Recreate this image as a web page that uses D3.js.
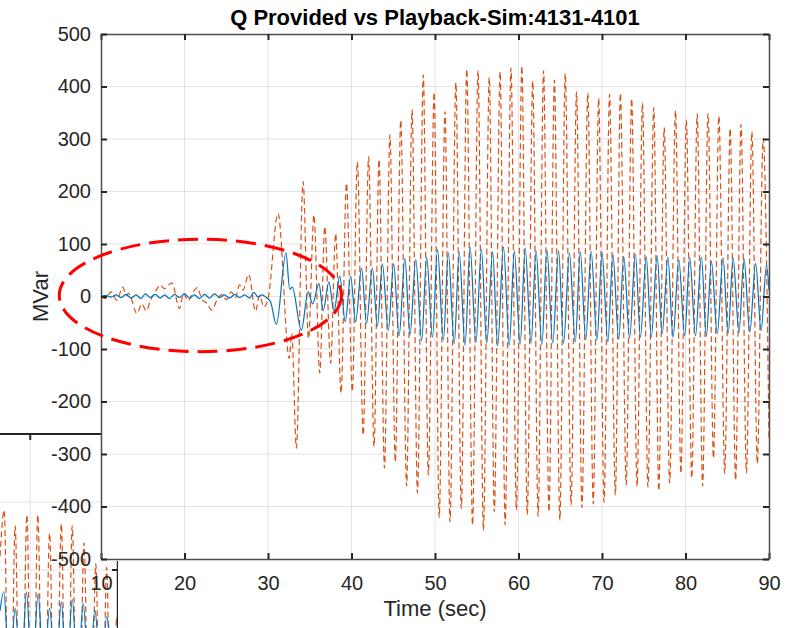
<!DOCTYPE html>
<html lang="en">
<head>
<meta charset="UTF-8">
<title>Q Provided vs Playback-Sim:4131-4101</title>
<script src="https://cdn.jsdelivr.net/npm/d3@7"></script>
<style>
  body { margin: 0; background: #fff; }
  svg { display: block; font-family: "Liberation Sans", Arial, sans-serif; }
</style>
</head>
<body>
<svg id="svg"></svg>
<script>
var WIDTH = 794;
var HEIGHT = 628;
var LEFT = 101, RIGHT = 769, TOP = 34, BOTTOM = 559;

// tick values
var xTicks = [10, 20, 30, 40, 50, 60, 70, 80, 90];
var yTicks = [-500, -400, -300, -200, -100, 0, 100, 200, 300, 400, 500];

// Q Provided (blue, solid) - [time sec, MVar] read at the turning points
var provided = [
  [10,0],[10.6,2],[11.2,-1],[11.8,3],[12.4,-2],[13.0,4],[13.6,-3],[14.2,3],[14.8,-4],[15.3,5],
  [15.9,-2],[16.5,4],[17.1,-3],[17.6,3],[18.2,-4],[18.8,4],[19.4,-2],[20.0,5],[20.6,-3],[21.2,3],
  [21.8,-4],[22.4,4],[23.0,-3],[23.6,5],[24.2,-2],[24.8,3],[25.4,-3],[26.0,4],[26.6,-2],[27.2,3],
  [27.8,-3],[28.3,8],[28.8,-1],[29.3,3],[29.8,-2],[30.3,-10],[31.0,-53],[32.15,83],[32.6,14],[32.9,18],
  [34.0,-64],[34.8,9],[35.35,-14],[36.1,25],[36.6,-27],[37.3,28],[37.9,-29],[38.6,39],[39.25,-48],[39.9,38],
  [40.5,-48],[41.2,54],[41.8,-51],[42.5,54],[43.1,-57],[43.7,62],[44.4,-65],[45.05,62],[45.7,-75],[46.4,72],
  [47.0,-74],[47.7,71],[48.4,-84],[49.0,75],[49.7,-78],[50.3,90],[51.0,-83],[51.6,83],[52.3,-90],[52.9,84],
  [53.6,-93],[54.2,94],[54.9,-88],[55.55,90],[56.2,-89],[56.9,85],[57.5,-94],[58.2,94],[58.9,-93],[59.5,87],
  [60.2,-91],[60.8,92],[61.5,-89],[62.1,87],[62.8,-92],[63.4,89],[64.1,-89],[64.8,87],[65.4,-89],[66.1,83],
  [66.8,-87],[67.4,85],[68.05,-83],[68.7,86],[69.4,-83],[70.0,84],[70.7,-87],[71.3,80],[72.0,-82],[72.6,76],
  [73.3,-79],[74.0,81],[74.6,-78],[75.3,76],[75.9,-78],[76.6,78],[77.2,-71],[77.9,75],[78.5,-78],[79.2,70],
  [79.9,-75],[80.5,74],[81.2,-75],[81.9,75],[82.5,-76],[83.1,67],[83.8,-71],[84.5,74],[85.1,-71],[85.7,73],
  [86.4,-69],[87.0,72],[87.7,-68],[88.4,63],[89.05,-65],[89.7,60],[90.0,12]
];

// Playback-Sim (orange, dashed)
var playback = [
  [10,0],[10.5,-4],[11.2,9],[11.9,-7],[12.6,18],[13.0,2],[13.3,6],[14.3,-32],[14.9,-14],[15.4,-27],
  [16.0,-5],[16.7,14],[17.1,22],[17.6,15],[18.1,22],[18.5,26],[19.4,-23],[19.9,6],[20.4,-8],[21.1,10],
  [21.5,17],[22.1,-6],[22.6,-12],[23.3,-26],[23.9,-6],[24.5,4],[25.0,-6],[25.6,9],[26.1,-2],[26.6,22],
  [27.0,12],[27.7,42],[28.5,-28],[29.0,2],[29.5,-20],[30.0,-5],[31.2,158],[32.55,-118],[32.85,-70],[33.4,-289],
  [34.2,219],[34.85,-80],[35.5,155],[36.2,-146],[36.8,133],[37.5,-127],[38.1,120],[38.75,-184],[39.4,216],[40.1,-181],
  [40.7,257],[41.4,-264],[42.05,266],[42.7,-286],[43.3,261],[43.95,-327],[44.6,308],[45.25,-315],[45.9,336],[46.6,-361],
  [47.25,356],[47.9,-374],[48.6,422],[49.2,-340],[49.9,389],[50.5,-421],[51.2,352],[51.8,-429],[52.5,407],[53.15,-404],
  [53.8,433],[54.5,-435],[55.15,431],[55.8,-445],[56.5,417],[57.1,-410],[57.8,428],[58.4,-435],[59.1,435],[59.75,-407],
  [60.4,439],[61.05,-416],[61.7,410],[62.35,-419],[63.0,430],[63.65,-410],[64.3,412],[64.95,-426],[65.6,425],[66.3,-397],
  [66.95,390],[67.6,-402],[68.3,388],[68.95,-395],[69.6,377],[70.25,-392],[70.9,385],[71.6,-378],[72.2,387],[72.9,-359],
  [73.55,377],[74.2,-362],[74.85,369],[75.5,-363],[76.2,360],[76.8,-370],[77.45,322],[78.1,-355],[78.8,354],[79.45,-337],
  [80.1,336],[80.75,-346],[81.4,348],[82.05,-361],[82.7,349],[83.35,-308],[84.0,344],[84.7,-337],[85.35,320],[86.0,-350],
  [86.65,328],[87.3,-336],[87.95,314],[88.6,-318],[89.3,301],[90.0,-273]
];

// red dashed ring around the early part: centre [sec, MVar], radii [sec, MVar]
var ringCenter = [21.9, 2];
var ringRadius = [16.9, 107];

// piece of another figure window peeking in at bottom left
var ghostXTicks = [50];
var ghostYTicks = [100, 200];
var ghostPlayback = [
  [46.4,120],[46.9,188],[47.55,-300],[48.2,165],[48.9,-300],[49.6,181],[50.25,-300],[50.9,181],[51.6,-300],[52.3,154],
  [53.0,-300],[53.7,168],[54.35,-300],[55.0,165],[55.7,-300],[56.4,140],[57.1,-300],[57.8,109],[58.45,-300],[59.1,104],
  [59.7,-300],[60.3,31],[60.9,-300]
];
var ghostProvided = [
  [46.4,40],[46.85,68],[47.55,-60],[48.2,44],[48.9,-60],[49.55,68],[50.2,-60],[50.95,65],[51.6,-60],[52.3,44],
  [53.0,-60],[53.7,53],[54.35,-60],[55.0,57],[55.65,-60],[56.3,51],[57.0,-60],[57.7,41],[58.4,-60],[59.1,31],[59.8,-60]
];

var BLUE = "#0072BD";
var ORANGE = "#D95319";
var AXIS = "#262626";
var GRID = "#e3e3e3";

var svg = d3.select("#svg")
            .attr("width", WIDTH)
            .attr("height", HEIGHT);

svg.append("rect")
   .attr("width", WIDTH)
   .attr("height", HEIGHT)
   .attr("fill", "#fff");

// ---- ghost window (drawn first, underneath) ----
var gx = d3.scaleLinear().domain([46.4, 60.4]).range([0, 117.6]);
var gy = d3.scaleLinear().domain([0, 200]).range([638, 502]);

svg.append("clipPath")
   .attr("id", "ghostClip")
   .append("polygon")
   .attr("points", "0,433 101,433 101,561 118,561 118,628 0,628");

var ghost = svg.append("g").attr("clip-path", "url(#ghostClip)");

ghost.selectAll("line.gh")
     .data(ghostYTicks)
     .enter()
     .append("line")
     .attr("x1", 0)
     .attr("x2", 118)
     .attr("y1", function(d){ return gy(d); })
     .attr("y2", function(d){ return gy(d); })
     .attr("stroke", GRID)
     .attr("stroke-width", 1);

ghost.selectAll("line.gv")
     .data(ghostXTicks)
     .enter()
     .append("line")
     .attr("x1", function(d){ return gx(d); })
     .attr("x2", function(d){ return gx(d); })
     .attr("y1", 433)
     .attr("y2", HEIGHT)
     .attr("stroke", GRID)
     .attr("stroke-width", 1);

var ghostLine = d3.line()
                  .x(function(d){ return gx(d[0]); })
                  .y(function(d){ return gy(d[1]); })
                  .curve(d3.curveMonotoneX);

ghost.append("path")
     .attr("d", ghostLine(ghostPlayback))
     .attr("fill", "none")
     .attr("stroke", ORANGE)
     .attr("stroke-width", 1.2)
     .attr("stroke-dasharray", "6,3.5");

ghost.append("path")
     .attr("d", ghostLine(ghostProvided))
     .attr("fill", "none")
     .attr("stroke", BLUE)
     .attr("stroke-width", 1.2);

// ghost axes box edges
ghost.append("line")
     .attr("x1", 0).attr("x2", 101)
     .attr("y1", gy(300)).attr("y2", gy(300))
     .attr("stroke", AXIS)
     .attr("stroke-width", 2);

ghost.selectAll("line.gtx")
     .data(ghostXTicks)
     .enter()
     .append("line")
     .attr("x1", function(d){ return gx(d); })
     .attr("x2", function(d){ return gx(d); })
     .attr("y1", gy(300))
     .attr("y2", gy(300) + 6)
     .attr("stroke", AXIS)
     .attr("stroke-width", 2);

ghost.append("line")
     .attr("x1", gx(60.45)).attr("x2", gx(60.45))
     .attr("y1", 561).attr("y2", HEIGHT)
     .attr("stroke", AXIS)
     .attr("stroke-width", 2.5);

ghost.selectAll("line.gty")
     .data([100])
     .enter()
     .append("line")
     .attr("x1", gx(60.45) - 6)
     .attr("x2", gx(60.45))
     .attr("y1", function(d){ return gy(d); })
     .attr("y2", function(d){ return gy(d); })
     .attr("stroke", AXIS)
     .attr("stroke-width", 2);

// ---- main chart ----
var xScale = d3.scaleLinear().domain([10, 90]).range([LEFT, RIGHT]);
var yScale = d3.scaleLinear().domain([-500, 500]).range([BOTTOM, TOP]);

svg.append("rect")
   .attr("x", LEFT)
   .attr("y", TOP)
   .attr("width", RIGHT - LEFT)
   .attr("height", BOTTOM - TOP)
   .attr("fill", "#fff");

// grid
var grid = svg.append("g").attr("id", "grid");
grid.selectAll("line.v")
    .data(xTicks.slice(1, -1))
    .enter()
    .append("line")
    .attr("x1", function(d){ return xScale(d); })
    .attr("x2", function(d){ return xScale(d); })
    .attr("y1", TOP)
    .attr("y2", BOTTOM)
    .attr("stroke", GRID)
    .attr("stroke-width", 1);
grid.selectAll("line.h")
    .data(yTicks.slice(1, -1))
    .enter()
    .append("line")
    .attr("x1", LEFT)
    .attr("x2", RIGHT)
    .attr("y1", function(d){ return yScale(d); })
    .attr("y2", function(d){ return yScale(d); })
    .attr("stroke", GRID)
    .attr("stroke-width", 1);

svg.append("clipPath")
   .attr("id", "chartArea")
   .append("rect")
   .attr("x", LEFT)
   .attr("y", TOP)
   .attr("width", RIGHT - LEFT)
   .attr("height", BOTTOM - TOP);

var line = d3.line()
             .x(function(d){ return xScale(d[0]); })
             .y(function(d){ return yScale(d[1]); })
             .curve(d3.curveMonotoneX);

var plot = svg.append("g").attr("clip-path", "url(#chartArea)");

plot.append("path")
    .attr("d", line(playback))
    .attr("fill", "none")
    .attr("stroke", ORANGE)
    .attr("stroke-width", 1.2)
    .attr("stroke-dasharray", "6,3.5");

plot.append("path")
    .attr("d", line(provided))
    .attr("fill", "none")
    .attr("stroke", BLUE)
    .attr("stroke-width", 1.2);

// axes, MATLAB style ticks pointing inwards on all four sides
var plainNumber = function(d){ return String(d); };

function styleAxis(g){
    g.select(".domain").attr("stroke", "#4d4d4d").attr("stroke-width", 1.5);
    g.selectAll(".tick line").attr("stroke", AXIS).attr("stroke-width", 2);
    g.selectAll(".tick text")
     .attr("fill", AXIS)
     .attr("font-size", 20)
     .attr("font-family", "'Liberation Sans', Arial, sans-serif");
}

svg.append("g")
   .attr("transform", "translate(0," + BOTTOM + ")")
   .call(d3.axisBottom(xScale).tickValues(xTicks).tickSize(-6).tickSizeOuter(0).tickPadding(17).tickFormat(plainNumber))
   .call(styleAxis);

svg.append("g")
   .attr("transform", "translate(0," + TOP + ")")
   .call(d3.axisTop(xScale).tickValues(xTicks).tickSize(-6).tickSizeOuter(0).tickFormat(""))
   .call(styleAxis);

svg.append("g")
   .attr("transform", "translate(" + LEFT + ",0)")
   .call(d3.axisLeft(yScale).tickValues(yTicks).tickSize(-6).tickSizeOuter(0).tickPadding(10).tickFormat(plainNumber))
   .call(styleAxis);

svg.append("g")
   .attr("transform", "translate(" + RIGHT + ",0)")
   .call(d3.axisRight(yScale).tickValues(yTicks).tickSize(-6).tickSizeOuter(0).tickFormat(""))
   .call(styleAxis);

// red dashed ring
svg.append("ellipse")
   .attr("cx", xScale(ringCenter[0]))
   .attr("cy", yScale(ringCenter[1]))
   .attr("rx", xScale(ringCenter[0] + ringRadius[0]) - xScale(ringCenter[0]))
   .attr("ry", yScale(ringCenter[1]) - yScale(ringCenter[1] + ringRadius[1]))
   .attr("fill", "none")
   .attr("stroke", "#ff0000")
   .attr("stroke-width", 3)
   .attr("stroke-dasharray", "20,9");

// titles
svg.append("text")
   .attr("x", (LEFT + RIGHT) / 2)
   .attr("y", 25)
   .attr("text-anchor", "middle")
   .attr("font-size", 22)
   .attr("font-weight", "bold")
   .attr("fill", "#000")
   .text("Q Provided vs Playback-Sim:4131-4101");

svg.append("text")
   .attr("x", (LEFT + RIGHT) / 2)
   .attr("y", 616)
   .attr("text-anchor", "middle")
   .attr("font-size", 22)
   .attr("fill", AXIS)
   .text("Time (sec)");

svg.append("text")
   .attr("transform", "translate(48," + yScale(0) + ") rotate(-90)")
   .attr("text-anchor", "middle")
   .attr("font-size", 22)
   .attr("fill", AXIS)
   .text("MVar");
</script>
</body>
</html>
